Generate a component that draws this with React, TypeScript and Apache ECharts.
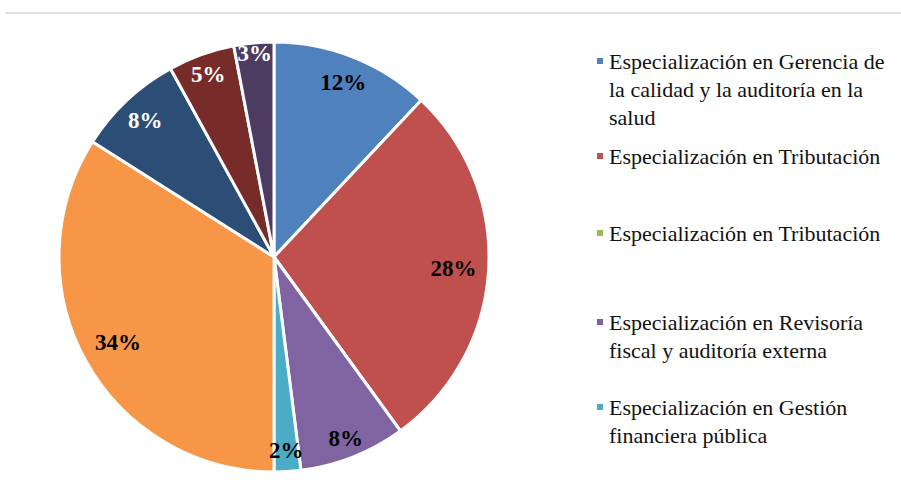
import React, { useEffect, useRef } from 'react';
import * as echarts from 'echarts';

// ---- Data ----
const categories: string[] = [
  'Especialización en Gerencia de la calidad y la auditoría en la salud',
  'Especialización en Tributación',
  'Especialización en Tributación',
  'Especialización en Revisoría fiscal y auditoría externa',
  'Especialización en Gestión financiera pública',
  'Otra especialización 1',
  'Otra especialización 2',
  'Otra especialización 3',
  'Otra especialización 4',
];
const values: number[] = [12, 28, 0, 8, 2, 34, 8, 5, 3];
const shownInLegend: boolean[] = [true, true, true, true, true, false, false, false, false];

// ---- Styles ----
const COLORS = ['#4f81bd', '#c0504d', '#9bbb59', '#8064a2', '#4bacc6', '#f79646', '#2c4d75', '#772c2a', '#4d3b62'];
const LABEL_COLORS = ['#000', '#000', '#000', '#000', '#000', '#000', '#fff', '#fff', '#fff'];
const LABEL_EXTRA_R = [0, -8, 0, 7, 6, -10, 0, 6, 17];
const FONT = "'Liberation Serif', 'Times New Roman', serif";
const LEGEND_FONT_SIZE = 22;
const LEGEND_LINE_H = 28;
const LEGEND_WRAP = 290;
const LEGEND_Y = [61, 156, 233, 322, 407];
const CENTER: [number, number] = [274, 257];
const R = 215;

function wrap(text: string, maxW: number): string[] {
  const ctx = document.createElement('canvas').getContext('2d')!;
  ctx.font = `${LEGEND_FONT_SIZE}px ${FONT}`;
  const words = text.split(' ');
  const lines: string[] = [];
  let cur = '';
  for (const w of words) {
    const t = cur ? cur + ' ' + w : w;
    if (cur && ctx.measureText(t).width > maxW) {
      lines.push(cur);
      cur = w;
    } else cur = t;
  }
  if (cur) lines.push(cur);
  return lines;
}

export default function App() {
  const ref = useRef<HTMLDivElement>(null);
  useEffect(() => {
    if (!ref.current) return;
    const chart = echarts.init(ref.current, undefined, { renderer: 'svg' });
    const keys = categories.map((_, i) => `k${i}`);
    const wrapped = categories.map((c) => wrap(c, LEGEND_WRAP));

    const total = values.reduce((a, b) => a + b, 0);
    const midAngles: number[] = [];
    let acc = 0;
    values.forEach((v) => {
      midAngles.push(((acc + v / 2) / total) * Math.PI * 2);
      acc += v;
    });

    const legends: any[] = [];
    let li = 0;
    categories.forEach((_, i) => {
      if (!shownInLegend[i]) return;
      const n = wrapped[i].length;
      const h = (2 * n - 1) * LEGEND_LINE_H;
      legends.push({
        data: [keys[i]],
        orient: 'vertical',
        left: 595,
        top: LEGEND_Y[li] - h / 2,
        padding: 0,
        itemWidth: 8,
        itemHeight: 8,
        icon: 'rect',
        selectedMode: false,
        formatter: () => '\n'.repeat(n - 1) + wrapped[i].join('\n'),
        textStyle: {
          fontFamily: FONT,
          fontSize: LEGEND_FONT_SIZE,
          lineHeight: LEGEND_LINE_H,
          color: '#111',
        },
      });
      li++;
    });

    const mainData = values.map((v, i) => ({
      name: keys[i],
      value: v,
      itemStyle: { color: COLORS[i] },
    }));
    const labelData = values.map((v, i) => ({
      name: keys[i],
      value: v,
      label: { show: v > 0, color: LABEL_COLORS[i] },
    }));

    chart.setOption({
      animation: false,
      backgroundColor: '#fff',
      legend: legends,
      graphic: [
        {
          type: 'rect',
          silent: true,
          shape: { x: 5, y: 12, width: 896, height: 2 },
          style: { fill: '#e2e2e2' },
        },
      ],
      series: [
        {
          type: 'pie',
          center: CENTER,
          radius: R,
          startAngle: 90,
          clockwise: true,
          silent: true,
          label: { show: false },
          labelLine: { show: false },
          itemStyle: { borderColor: '#fff', borderWidth: 3 },
          data: mainData,
        },
        {
          type: 'pie',
          center: CENTER,
          radius: [R * 0.72, R],
          startAngle: 90,
          clockwise: true,
          silent: true,
          legendHoverLink: false,
          itemStyle: { color: 'rgba(0,0,0,0)', borderWidth: 0 },
          label: {
            position: 'inside',
            fontFamily: FONT,
            fontSize: 23,
            fontWeight: 'bold',
            formatter: (p: any) => `${p.value}%`,
          },
          labelLine: { show: false },
          labelLayout: (p: any) => {
            const i = p.dataIndex;
            const e = LABEL_EXTRA_R[i] || 0;
            const a = midAngles[i];
            return { dx: e * Math.sin(a), dy: -e * Math.cos(a) };
          },
          data: labelData,
        },
      ],
    });
    return () => chart.dispose();
  }, []);
  return (
    <div
      ref={ref}
      style={{ position: 'absolute', left: 0, top: 0, width: 901, height: 493, background: '#fff' }}
    />
  );
}
